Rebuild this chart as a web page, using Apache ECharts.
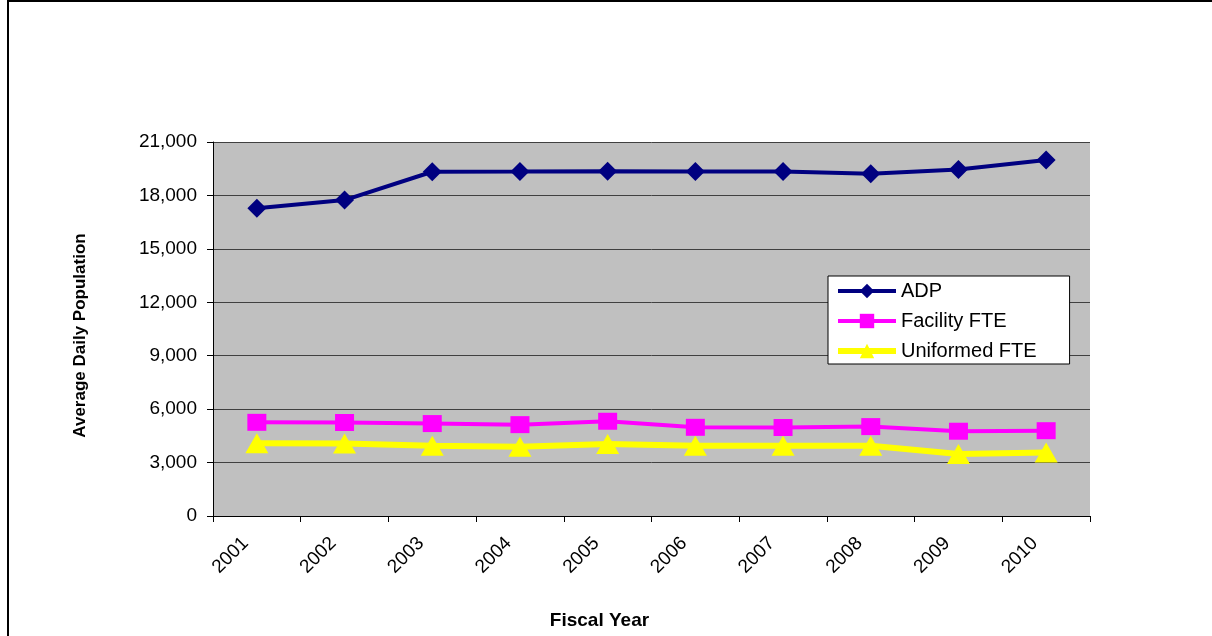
<!DOCTYPE html>
<html>
<head>
<meta charset="utf-8">
<script src="https://cdn.jsdelivr.net/npm/echarts@6/dist/echarts.min.js"></script>
<style>
html,body{margin:0;padding:0;background:#fff;}
#chart{width:1212px;height:636px;}
</style>
</head>
<body>
<div id="chart"></div>
<script>
var categories = ['2001','2002','2003','2004','2005','2006','2007','2008','2009','2010'];
var adp = [17280, 17740, 19330, 19340, 19360, 19350, 19350, 19220, 19450, 19990];
var facilityFTE = [5260, 5250, 5190, 5130, 5320, 4980, 4970, 5020, 4760, 4790];
var uniformedFTE = [4080, 4070, 3950, 3890, 4040, 3950, 3950, 3950, 3480, 3560];
var yTicks = {min: 0, max: 21000, interval: 3000};

var FONT = '"Liberation Sans", Arial, sans-serif';
var chart = echarts.init(document.getElementById('chart'), null, {renderer: 'canvas'});

chart.setOption({
  animation: false,
  backgroundColor: '#ffffff',
  grid: {
    left: 213, top: 142, width: 877, height: 374,
    show: true, backgroundColor: '#C0C0C0', borderWidth: 0,
    containLabel: false
  },
  legend: {
    orient: 'vertical',
    left: 828, top: 276,
    padding: [5, 33, 3, 7],
    itemWidth: 58, itemHeight: 18, itemGap: 10,
    backgroundColor: '#ffffff',
    borderColor: '#000000', borderWidth: 1, borderRadius: 0,
    textStyle: {fontFamily: FONT, fontSize: 20, color: '#000'},
    data: [
      {name: 'ADP', lineStyle: {width: 4}},
      {name: 'Facility FTE', lineStyle: {width: 4}},
      {name: 'Uniformed FTE', lineStyle: {width: 6}}
    ]
  },
  xAxis: {
    type: 'category',
    data: categories,
    boundaryGap: true,
    axisLine: {show: true, lineStyle: {color: '#000', width: 1}},
    axisTick: {show: true, length: 6, inside: false, lineStyle: {color: '#000'}},
    splitLine: {show: false},
    axisLabel: {
      rotate: 45, margin: 13, padding: [0, 16, 0, 0],
      fontFamily: FONT, fontSize: 19, color: '#000', interval: 0
    }
  },
  yAxis: {
    type: 'value',
    min: yTicks.min, max: yTicks.max, interval: yTicks.interval,
    axisLine: {show: true, lineStyle: {color: '#000', width: 1}},
    axisTick: {show: true, length: 6, inside: false, lineStyle: {color: '#000'}},
    splitLine: {show: true, lineStyle: {color: '#404040', width: 1}},
    axisLabel: {
      margin: 16, fontFamily: FONT, fontSize: 19, color: '#000',
      formatter: function (v) { return v.toLocaleString('en-US'); }
    }
  },
  graphic: [
    {type: 'line', shape: {x1: 8, y1: 1, x2: 1212, y2: 1}, style: {stroke: '#000', lineWidth: 2}, silent: true},
    {type: 'line', shape: {x1: 8, y1: 0, x2: 8, y2: 636}, style: {stroke: '#000', lineWidth: 2}, silent: true},
    {type: 'text', x: 80.5, y: 335.5, rotation: Math.PI / 2,
      style: {text: 'Average Daily Population', fontFamily: FONT, fontSize: 17, fontWeight: 'bold',
        fill: '#000', align: 'center', verticalAlign: 'middle'}},
    {type: 'text', x: 599.5, y: 620.5,
      style: {text: 'Fiscal Year', fontFamily: FONT, fontSize: 19, fontWeight: 'bold',
        fill: '#000', align: 'center', verticalAlign: 'middle'}}
  ],
  series: [
    {
      name: 'ADP', type: 'line', data: adp,
      symbol: 'diamond', symbolSize: [19, 19],
      lineStyle: {color: '#000080', width: 4},
      itemStyle: {color: '#000080'}
    },
    {
      name: 'Facility FTE', type: 'line', data: facilityFTE,
      symbol: 'rect', symbolSize: [19, 17],
      lineStyle: {color: '#FF00FF', width: 4},
      itemStyle: {color: '#FF00FF'}
    },
    {
      name: 'Uniformed FTE', type: 'line', data: uniformedFTE,
      symbol: 'triangle', symbolSize: [23, 20],
      lineStyle: {color: '#FFFF00', width: 6},
      itemStyle: {color: '#FFFF00'}
    }
  ]
});
</script>
</body>
</html>
